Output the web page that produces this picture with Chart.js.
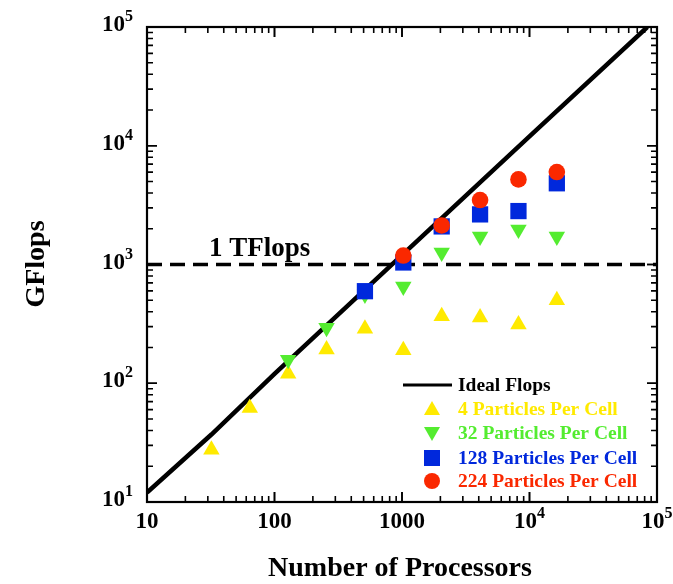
<!DOCTYPE html>
<html>
<head>
<meta charset="utf-8">
<script src="https://cdn.jsdelivr.net/npm/chart.js@4.4.1/dist/chart.umd.min.js"></script>
<style>
  html, body { margin: 0; padding: 0; background: #fff; }
  #wrap { width: 673px; height: 584px; }
</style>
</head>
<body>
<div id="wrap"><canvas id="chart" width="673" height="584"></canvas></div>
<script>
// number of processors for each run
const procs = [32, 64, 128, 256, 512, 1024, 2048, 4096, 8192, 16384];

// measured GFlops per particle loading
const gf4   = [27.5, 62, 120, 192, 288, 190, 366, 357, 312, 500];
const gf32  = [null, null, 158, 294, 560, 652, 1262, 1722, 1973, 1722];
const gf128 = [null, null, null, null, 596, 1040, 2093, 2642, 2818, 4830];
const gf224 = [null, null, null, null, null, 1190, 2133, 3490, 5210, 6010];

// ideal scaling line
const idealProcs = [10, 32, 100, 1000, 10000, 84000];
const idealFlops = [12, 37, 120, 1200, 12000, 100000];

// 1 TFlops reference
const tflopsLevel = 1000;

// tick labels ("a^b" means a with superscript b)
const xTickValues = [10, 100, 1000, 10000, 100000];
const xTickLabels = ['10', '100', '1000', '10^4', '10^5'];
const yTickValues = [10, 100, 1000, 10000, 100000];
const yTickLabels = ['10^1', '10^2', '10^3', '10^4', '10^5'];

const seriesNames = ['Ideal Flops', '4 Particles Per Cell', '32 Particles Per Cell',
                     '128 Particles Per Cell', '224 Particles Per Cell'];

const YELLOW = 'rgb(255,234,0)';
const GREEN = 'rgb(84,236,48)';
const BLUE = 'rgb(0,40,220)';
const RED = 'rgb(250,40,0)';
const SERIF = '"Liberation Serif", "DejaVu Serif", serif';

const toPoints = (xs, ys) => xs.map((x, i) => ({ x: x, y: ys[i] })).filter(p => p.y !== null);

// draws "10" with a raised exponent; align is 'center' or 'right'
function drawPowerLabel(ctx, text, x, y, align) {
    const parts = text.split('^');
    ctx.font = 'bold 23px ' + SERIF;
    const wBase = ctx.measureText(parts[0]).width;
    let wExp = 0;
    if (parts[1]) {
        ctx.font = 'bold 16px ' + SERIF;
        wExp = ctx.measureText(parts[1]).width;
    }
    const total = wBase + wExp;
    let left = align === 'right' ? x - total : x - total / 2;
    ctx.textAlign = 'left';
    ctx.textBaseline = 'alphabetic';
    ctx.font = 'bold 23px ' + SERIF;
    ctx.fillText(parts[0], left, y);
    if (parts[1]) {
        ctx.font = 'bold 16px ' + SERIF;
        ctx.fillText(parts[1], left + wBase, y - 10);
    }
}

const framePlugin = {
    id: 'frame',
    afterDraw(chart) {
        const ctx = chart.ctx;
        const a = chart.chartArea;
        const xs = chart.scales.x;
        const ys = chart.scales.y;
        ctx.save();
        ctx.strokeStyle = '#000';
        ctx.fillStyle = '#000';

        // ticks, pointing inward on all four sides
        ctx.lineWidth = 1.6;
        for (let d = 10; d < 100000; d *= 10) {
            for (let k = 1; k <= 10; k++) {
                const v = d * k;
                const major = (k === 1 || k === 10);
                const len = major ? 10 : 6;
                const px = xs.getPixelForValue(v);
                const py = ys.getPixelForValue(v);
                ctx.beginPath();
                ctx.moveTo(px, a.bottom); ctx.lineTo(px, a.bottom - len);
                ctx.moveTo(px, a.top); ctx.lineTo(px, a.top + len);
                ctx.moveTo(a.left, py); ctx.lineTo(a.left + len, py);
                ctx.moveTo(a.right, py); ctx.lineTo(a.right - len, py);
                ctx.stroke();
            }
        }

        // box
        ctx.lineWidth = 2.2;
        ctx.strokeRect(a.left, a.top, a.right - a.left, a.bottom - a.top);

        // tick labels
        xTickValues.forEach((v, i) => {
            drawPowerLabel(ctx, xTickLabels[i], xs.getPixelForValue(v), a.bottom + 26, 'center');
        });
        yTickValues.forEach((v, i) => {
            drawPowerLabel(ctx, yTickLabels[i], a.left - 14, ys.getPixelForValue(v) + 4, 'right');
        });

        // axis titles
        ctx.font = 'bold 28px ' + SERIF;
        ctx.textAlign = 'center';
        ctx.textBaseline = 'middle';
        ctx.fillText('Number of Processors', 400, 569);
        ctx.save();
        ctx.translate(37, 264);
        ctx.rotate(-Math.PI / 2);
        ctx.fillText('GFlops', 0, 0);
        ctx.restore();

        // 1 TFlops note
        ctx.font = 'bold 27px ' + SERIF;
        ctx.textAlign = 'left';
        ctx.textBaseline = 'alphabetic';
        ctx.fillText('1 TFlops', 209, 256);

        // legend
        const colors = ['#000', YELLOW, GREEN, BLUE, RED];
        const rowY = [385, 409, 433, 458, 481];
        const markX = 432;
        ctx.font = 'bold 19.5px ' + SERIF;
        ctx.textBaseline = 'middle';
        seriesNames.forEach((name, i) => {
            const y = rowY[i];
            ctx.fillStyle = colors[i];
            if (i === 0) {
                ctx.lineWidth = 3;
                ctx.beginPath();
                ctx.moveTo(403, y); ctx.lineTo(452, y);
                ctx.stroke();
            } else if (i === 1) {
                ctx.beginPath();
                ctx.moveTo(markX, y - 8); ctx.lineTo(markX + 8, y + 6); ctx.lineTo(markX - 8, y + 6);
                ctx.closePath(); ctx.fill();
            } else if (i === 2) {
                ctx.beginPath();
                ctx.moveTo(markX, y + 8); ctx.lineTo(markX + 8, y - 6); ctx.lineTo(markX - 8, y - 6);
                ctx.closePath(); ctx.fill();
            } else if (i === 3) {
                ctx.fillRect(markX - 8, y - 8, 16, 16);
            } else {
                ctx.beginPath();
                ctx.arc(markX, y, 8, 0, Math.PI * 2);
                ctx.fill();
            }
            ctx.fillText(name, 458, y + 1);
        });
        ctx.restore();
    }
};

const markerSet = (label, data, color, style, radius, rotation, order) => ({
    label: label,
    data: data,
    showLine: false,
    pointStyle: style,
    pointRadius: radius,
    pointHoverRadius: radius,
    pointRotation: rotation,
    pointBackgroundColor: color,
    pointBorderColor: color,
    pointBorderWidth: 0,
    order: order
});

new Chart(document.getElementById('chart'), {
    type: 'scatter',
    data: {
        datasets: [
            {
                label: seriesNames[0],
                data: toPoints(idealProcs, idealFlops),
                showLine: true,
                borderColor: '#000',
                borderWidth: 4.5,
                pointRadius: 0,
                order: 6
            },
            {
                label: '1 TFlops',
                data: [{ x: 10, y: tflopsLevel }, { x: 100000, y: tflopsLevel }],
                showLine: true,
                borderColor: '#000',
                borderWidth: 3.5,
                borderDash: [15, 8],
                pointRadius: 0,
                order: 5
            },
            markerSet(seriesNames[1], toPoints(procs, gf4), YELLOW, 'triangle', 9.5, 0, 4),
            markerSet(seriesNames[2], toPoints(procs, gf32), GREEN, 'triangle', 9.5, 180, 3),
            markerSet(seriesNames[3], toPoints(procs, gf128), BLUE, 'rect', 11.5, 0, 2),
            markerSet(seriesNames[4], toPoints(procs, gf224), RED, 'circle', 8.3, 0, 1)
        ]
    },
    options: {
        responsive: false,
        animation: false,
        layout: { padding: { left: 147, top: 27, right: 16, bottom: 82 } },
        plugins: {
            legend: { display: false },
            tooltip: { enabled: false }
        },
        scales: {
            x: { type: 'logarithmic', min: 10, max: 100000, display: false },
            y: { type: 'logarithmic', min: 10, max: 100000, display: false }
        }
    },
    plugins: [framePlugin]
});
</script>
</body>
</html>
